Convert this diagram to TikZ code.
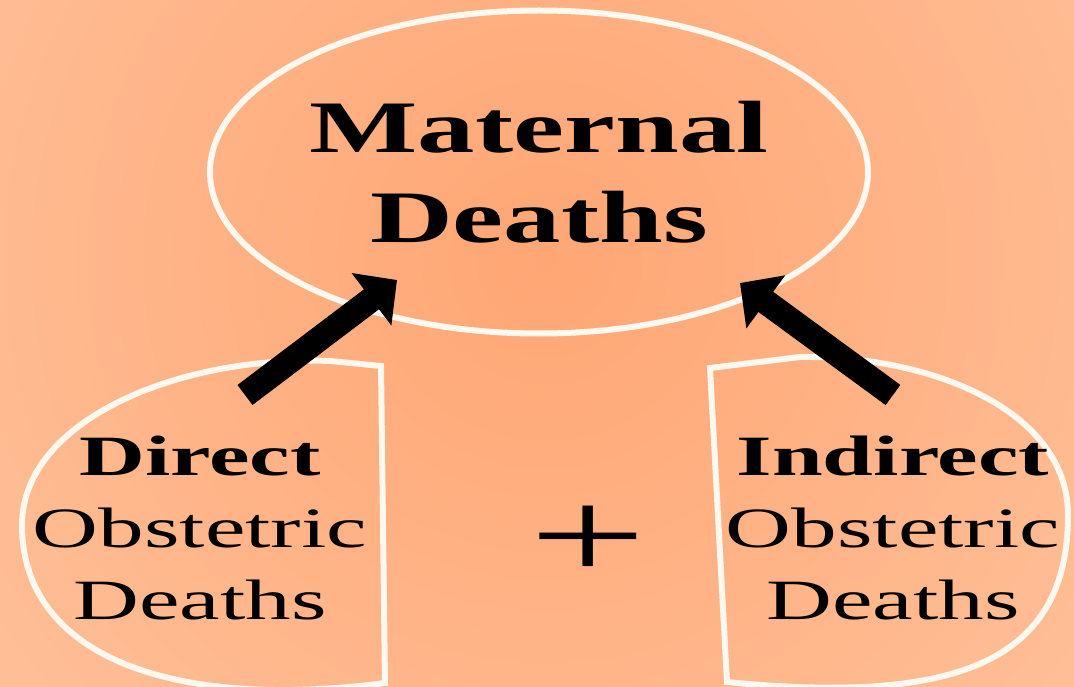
\documentclass[tikz,border=0pt]{standalone}
\usepackage{fontspec}
\newfontfamily\headfont[FakeStretch=1.55]{Liberation Serif}
\newfontfamily\partfont[FakeStretch=1.6]{Liberation Serif}
\usetikzlibrary{arrows.meta,shapes.geometric}
\definecolor{peachdark}{RGB}{255,166,116}
\definecolor{peachlight}{RGB}{255,202,166}
\definecolor{rimwhite}{RGB}{255,248,238}

\begin{document}
\begin{tikzpicture}[x=1pt, y=-1pt,
	rim/.style={draw=rimwhite, line width=6pt},
	parttext/.style={align=center, inner sep=0pt,
		font=\partfont\fontsize{57}{72}\selectfont},
	fatarrow/.style={line width=25pt, -{Triangle[length=32pt, width=64pt]}}]
	\useasboundingbox (0,0) rectangle (1074,687);
	\begin{scope}
		\clip (0,0) rectangle (1074,687);
		\shade[inner color=peachdark, outer color=peachlight] (545,260) circle (1000);
	\end{scope}
	\draw[rim] (381,366) -- (385,683) .. controls (180,710) and (22,660) .. (22,525)
	.. controls (22,420) and (180,355) .. (330,361) -- cycle;
	\draw[rim] (710,368) -- (727,682) .. controls (960,705) and (1068,660) .. (1068,515)
	.. controls (1068,410) and (930,355) .. (800,357) -- cycle;
	\node[rim, ellipse, minimum width=658pt, minimum height=323pt, inner sep=0pt,
	align=center, font=\headfont\bfseries\fontsize{74}{90}\selectfont]
	(maternal) at (539,172) {Maternal\\Deaths};
	\node[parttext] (direct) at (200,528) {\textbf{Direct}\\Obstetric\\Deaths};
	\node[parttext] (indirect) at (893,528) {\textbf{Indirect}\\Obstetric\\Deaths};
	\node[inner sep=0pt, font=\partfont\fontsize{130}{130}\selectfont] (plus) at (588,543) {+};
	\coordinate (tailL) at ([shift={(45,-133)}]direct.center);
	\coordinate (tipL) at ([shift={(-142,108)}]maternal.center);
	\coordinate (tailR) at ([shift={(0,-133)}]indirect.center);
	\coordinate (tipR) at ([shift={(201,111)}]maternal.center);
	\draw[fatarrow] (tailL) -- (tipL);
	\draw[fatarrow] (tailR) -- (tipR);
\end{tikzpicture}
\end{document}
